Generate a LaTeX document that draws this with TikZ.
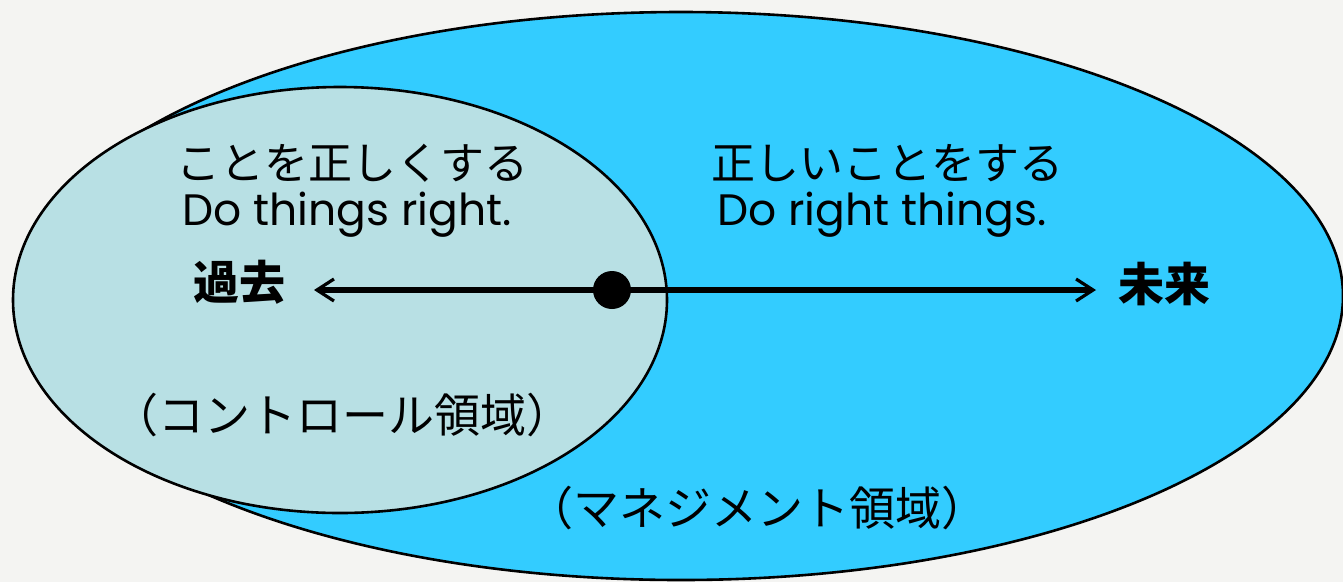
\documentclass[tikz,border=0pt]{standalone}
\usepackage{fontspec}
\setmainfont{Noto Sans CJK JP}
\newfontfamily\latinfont{Poppins}
\usetikzlibrary{arrows.meta}
\definecolor{bgcol}{HTML}{F4F4F2}
\definecolor{bigblue}{HTML}{33CCFF}
\definecolor{smallblue}{HTML}{B8E0E4}
\tikzset{
  region/.style={draw=black, line width=2.6pt},
  jtext/.style={inner sep=0pt, font=\fontsize{44}{46}\selectfont},
  ptext/.style={inner sep=0pt, font=\fontsize{46}{48}\selectfont},
  etext/.style={inner sep=0pt, font=\fontsize{44}{46}\selectfont\latinfont},
  ttext/.style={inner sep=0pt, font=\fontsize{46}{48}\selectfont\bfseries},
  timeline/.style={line width=6pt, arrows={Straight Barb[length=17pt,width=22pt,line width=3.2pt]-Straight Barb[length=17pt,width=22pt,line width=3.2pt]}}
}
\begin{document}
\begin{tikzpicture}[x=1pt,y=-1pt]
\fill[bgcol] (0,0) rectangle (1343,582);
\useasboundingbox (0,0) rectangle (1343,582);
% regions
\path[region, fill=bigblue] (681,296) ellipse [x radius=662pt, y radius=284pt];
\path[region, fill=smallblue] (340,300) ellipse [x radius=327pt, y radius=213pt];
% texts
\node[jtext] (l1) at (352,163) {ことを正しくする};
\node[etext] (l2) at (347,215) {Do things right.};
\node[jtext] (r1) at (887,163) {正しいことをする};
\node[etext] (r2) at (882,215) {Do right things.};
\node[ttext] (past) at (239,282) {過去};
\node[ttext] (future) at (1164,284) {未来};
\node[ptext] (ctrl) at (342,415) {（コントロール領域）};
\node[ptext] (mgmt) at (757,508) {（マネジメント領域）};
% time axis
\coordinate (la) at (314,290);
\coordinate (ra) at (1096,290);
\node[circle, inner sep=0pt, minimum size=38pt] (now) at (612,290) {};
\draw[timeline] (la) -- (ra);
\fill[black] (now.center) circle (19pt);
\end{tikzpicture}
\end{document}
